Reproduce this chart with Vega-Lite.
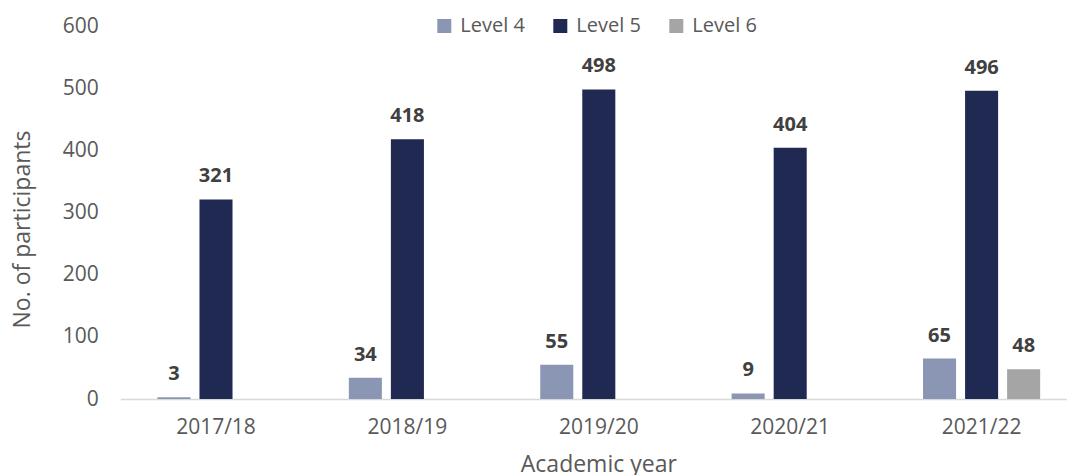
{
  "$schema": "https://vega.github.io/schema/vega-lite/v6.json",
  "autosize": "none",
  "width": 946.7,
  "height": 373,
  "padding": {"left": 120.3, "top": 26, "right": 0, "bottom": 76},
  "background": "white",
  "config": {
    "view": {"stroke": null},
    "font": "Open Sans"
  },
  "data": {
    "values": [
      {"year": "2017/18", "level": "Level 4", "count": 3},
      {"year": "2017/18", "level": "Level 5", "count": 321},
      {"year": "2018/19", "level": "Level 4", "count": 34},
      {"year": "2018/19", "level": "Level 5", "count": 418},
      {"year": "2019/20", "level": "Level 4", "count": 55},
      {"year": "2019/20", "level": "Level 5", "count": 498},
      {"year": "2020/21", "level": "Level 4", "count": 9},
      {"year": "2020/21", "level": "Level 5", "count": 404},
      {"year": "2021/22", "level": "Level 4", "count": 65},
      {"year": "2021/22", "level": "Level 5", "count": 496},
      {"year": "2021/22", "level": "Level 6", "count": 48}
    ]
  },
  "encoding": {
    "x": {
      "field": "year",
      "type": "nominal",
      "sort": null,
      "scale": {"range": [0, 957], "paddingInner": 0.341, "paddingOuter": 0.1705},
      "axis": {
        "title": "Academic year",
        "titleFontSize": 23,
        "titleFontWeight": "normal",
        "titleColor": "#595959",
        "titleX": 478,
        "titleY": 72,
        "titleBaseline": "alphabetic",
        "labelAngle": 0,
        "labelFontSize": 21,
        "labelColor": "#595959",
        "labelPadding": 17,
        "ticks": false,
        "domainColor": "#d9d9d9",
        "domainWidth": 1.5
      }
    },
    "xOffset": {
      "field": "level",
      "type": "nominal",
      "scale": {"domain": ["Level 4", "Level 5", "Level 6"], "paddingInner": 0.214, "paddingOuter": 0.107}
    },
    "y": {
      "field": "count",
      "type": "quantitative",
      "scale": {"domain": [0, 600], "nice": false},
      "axis": {
        "values": [0, 100, 200, 300, 400, 500, 600],
        "title": "No. of participants",
        "titleFontSize": 23,
        "titleFontWeight": "normal",
        "titleColor": "#595959",
        "titleX": -91,
        "titleY": 203,
        "titleAlign": "center",
        "titleBaseline": "alphabetic",
        "titleAngle": -90,
        "labelFontSize": 21,
        "labelColor": "#595959",
        "labelPadding": 22,
        "ticks": false,
        "domain": false,
        "grid": false
      }
    }
  },
  "layer": [
    {
      "mark": {"type": "bar"},
      "encoding": {
        "color": {
          "field": "level",
          "type": "nominal",
          "scale": {"domain": ["Level 4", "Level 5", "Level 6"], "range": ["#8a96b4", "#1f2951", "#a5a5a5"]},
          "legend": {
            "orient": "none",
            "direction": "horizontal",
            "legendX": 314,
            "legendY": -10,
            "title": null,
            "symbolType": "square",
            "symbolSize": 196,
            "symbolStrokeWidth": 0,
            "labelFontSize": 20,
            "labelColor": "#595959",
            "labelOffset": 6,
            "columnPadding": 25
          }
        }
      }
    },
    {
      "mark": {"type": "text", "baseline": "alphabetic", "dy": -17, "fontWeight": "bold", "fontSize": 20, "color": "#404040"},
      "encoding": {
        "text": {"field": "count", "type": "quantitative"}
      }
    }
  ]
}
